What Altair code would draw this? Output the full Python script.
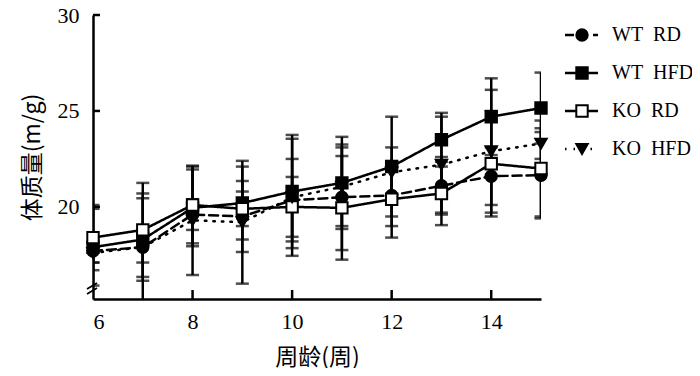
import altair as alt
import pandas as pd

weeks = [6, 7, 8, 9, 10, 11, 12, 13, 14, 15]
series = ["WT\u2002RD", "WT\u2002HFD", "KO\u2002RD", "KO\u2002HFD"]

wt_rd = [17.7, 17.9, 19.6, 19.5, 20.35, 20.5, 20.6, 21.1, 21.6, 21.65]
wt_rd_sd = [0.6, 2.8, 0.8, 1.85, 2.15, 2.75, 1.6, 1.5, 1.5, 2.25]
wt_hfd = [17.9, 18.3, 19.95, 20.2, 20.8, 21.25, 22.1, 23.5, 24.7, 25.15]
wt_hfd_sd = [2.0, 2.15, 2.0, 1.9, 2.95, 2.4, 2.6, 1.4, 2.0, 1.85]
ko_rd = [18.4, 18.8, 20.1, 19.9, 20.0, 19.95, 20.4, 20.7, 22.25, 22.0]
ko_rd_sd = [1.7, 2.45, 2.0, 0.9, 1.56, 2.7, 2.0, 1.65, 2.75, 2.5]
ko_hfd = [17.6, 17.9, 19.3, 19.2, 20.5, 21.05, 21.8, 22.2, 22.9, 23.3]
ko_hfd_sd = [0.5, 0.8, 2.85, 3.2, 3.05, 2.05, 1.3, 2.5, 3.2, 0.8]

x_ticks = [8, 10, 12, 14]
y_ticks = [20, 25, 30]

rows = []
for name, vals, sds in zip(series, [wt_rd, wt_hfd, ko_rd, ko_hfd],
                           [wt_rd_sd, wt_hfd_sd, ko_rd_sd, ko_hfd_sd]):
    for w, v, s in zip(weeks, vals, sds):
        rows.append({"series": name, "week": w, "mean": v, "lo": v - s, "hi": v + s})
df = pd.DataFrame(rows)

W, H = 448, 284
xs = alt.Scale(domain=[6, 15], nice=False, zero=False)
ys = alt.Scale(domain=[15.2, 30], nice=False, zero=False)
x_axis = alt.Axis(values=[6, 8, 10, 12, 14], title="周龄(周)", labelPadding=12, titlePadding=14)
y_axis = alt.Axis(values=y_ticks, title="体质量(m/g)", labelPadding=14, titlePadding=13)

dash_scale = alt.Scale(domain=series, range=[[9, 5], [1, 0], [1, 0], [1.5, 7]])
shape_scale = alt.Scale(domain=series, range=["circle", "square", "square", "triangle-down"])
fill_scale = alt.Scale(domain=series, range=["black", "black", "white", "black"])

base = alt.Chart(df)
X = alt.X("week:Q", scale=xs, axis=x_axis)

lines = base.mark_line(color="black", strokeWidth=2.5, strokeCap="round").encode(
    x=X,
    y=alt.Y("mean:Q", scale=ys, axis=y_axis),
    strokeDash=alt.StrokeDash("series:N", scale=dash_scale, legend=None),
    detail="series:N",
)

bars = base.mark_rule(color="black", strokeWidth=2.5, clip=True).encode(
    x=X,
    y=alt.Y("lo:Q", scale=ys, axis=y_axis),
    y2="hi:Q",
)
cap_lo = base.mark_tick(color="black", orient="horizontal", size=13, thickness=2.5,
                        clip=True).encode(
    x=X,
    y=alt.Y("lo:Q", scale=ys, axis=y_axis),
)
cap_hi = base.mark_tick(color="black", orient="horizontal", size=13, thickness=2.5,
                        clip=True).encode(
    x=X,
    y=alt.Y("hi:Q", scale=ys, axis=y_axis),
)
points = base.mark_point(filled=True, stroke="black", strokeWidth=2, opacity=1).encode(
    x=X,
    y=alt.Y("mean:Q", scale=ys, axis=y_axis),
    shape=alt.Shape("series:N", scale=shape_scale, legend=None),
    fill=alt.Fill("series:N", scale=fill_scale, legend=None),
    size=alt.value(130),
)

ytick_df = pd.DataFrame({"v": y_ticks})
yticks = alt.Chart(ytick_df).mark_rule(color="black", strokeWidth=2.5).encode(
    y=alt.Y("v:Q", scale=ys, axis=y_axis), x=alt.value(0), x2=alt.value(7))
xtick_df = pd.DataFrame({"v": x_ticks})
xticks = alt.Chart(xtick_df).mark_rule(color="black", strokeWidth=2.5).encode(
    x=alt.X("v:Q", scale=xs, axis=x_axis), y=alt.value(H), y2=alt.value(H - 9))

brk = pd.DataFrame({"k": [0, 1]})
break1 = alt.Chart(brk).transform_filter("datum.k == 0").mark_rule(
    color="black", strokeWidth=1.8).encode(
    x=alt.value(-6), y=alt.value(274), x2=alt.value(4), y2=alt.value(268))
break2 = alt.Chart(brk).transform_filter("datum.k == 1").mark_rule(
    color="black", strokeWidth=1.8).encode(
    x=alt.value(-6), y=alt.value(279), x2=alt.value(4), y2=alt.value(273))

main = alt.layer(lines, bars, cap_lo, cap_hi, points, yticks, xticks, break1, break2)

leg_df = pd.DataFrame({"series": series})
ly = alt.Y("series:N", sort=series, axis=None,
           scale=alt.Scale(type="point", domain=series, range=[20, 134], padding=0))
leg_line = alt.Chart(leg_df).mark_rule(color="black", strokeWidth=2.5).encode(
    y=ly, x=alt.value(472), x2=alt.value(505),
    strokeDash=alt.StrokeDash("series:N", scale=dash_scale, legend=None))
leg_pt = alt.Chart(leg_df).mark_point(filled=True, stroke="black", strokeWidth=2,
                                      opacity=1).encode(
    y=ly, x=alt.value(489),
    shape=alt.Shape("series:N", scale=shape_scale, legend=None),
    fill=alt.Fill("series:N", scale=fill_scale, legend=None),
    size=alt.value(130))
leg_txt = alt.Chart(leg_df).mark_text(align="left", baseline="middle", font="Liberation Serif",
                                      fontSize=20, color="black").encode(
    y=ly, x=alt.value(519), text="series:N")
legend = alt.layer(leg_line, leg_pt, leg_txt)

chart = alt.layer(main, legend).resolve_scale(y="independent").properties(
    width=W, height=H,
    autosize=alt.AutoSizeParams(type="none"),
    padding={"left": 85, "top": 7, "right": 151, "bottom": 69},
).configure_view(stroke=None).configure_axis(
    grid=False, ticks=False, domainColor="black", domainWidth=2.5,
    labelFont="Liberation Serif", labelFontSize=22, labelColor="black",
    titleFont="Noto Sans CJK SC", titleFontSize=23, titleFontWeight="normal",
    titleColor="black",
)

chart.save("out.html", embed_options={"renderer": "svg", "actions": False})
